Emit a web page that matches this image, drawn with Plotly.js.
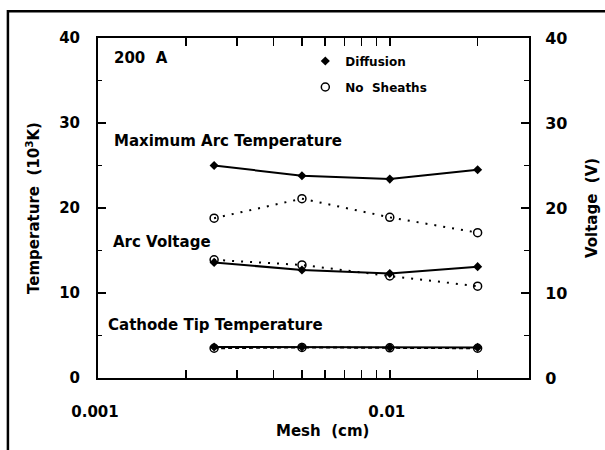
<!DOCTYPE html>
<html>
<head>
<meta charset="utf-8">
<script src="https://cdn.plot.ly/plotly-3.0.1.min.js"></script>
<style>
html,body{margin:0;padding:0;background:#fff;}
#chart{width:605px;height:450px;}
</style>
</head>
<body>
<div id="chart"></div>
<script>
const mesh = [0.0025, 0.005, 0.01, 0.02];
const maxTempDiffusion = [25.0, 23.8, 23.4, 24.5];
const maxTempNoSheaths = [18.8, 21.1, 18.9, 17.1];
const arcVoltDiffusion = [13.6, 12.7, 12.3, 13.1];
const arcVoltNoSheaths = [13.9, 13.3, 12.0, 10.8];
const cathodeDiffusion = [3.65, 3.65, 3.6, 3.6];
const cathodeNoSheaths = [3.5, 3.6, 3.55, 3.5];

const xTickVals = [0.001, 0.01];
const xTickText = ['0.001', '0.01'];
const xMinorVals = [0.002,0.003,0.004,0.005,0.006,0.007,0.008,0.009,0.02,0.03];
const yTickVals = [0, 10, 20, 30, 40];
const yTickText = ['0', '10', '20', '30', '40'];
const yMinorVals = [5, 15, 25, 35];

const F = 'DejaVu Sans, Verdana, sans-serif';
const solid = {color:'#000', width:2};
const dotted = {color:'#000', width:2, dash:'2px,7px'};
const filled = {symbol:'diamond', size:7, color:'#000'};
const open = {symbol:'circle-open', size:8, color:'#000', line:{width:1.5, color:'#000'}};

const traces = [
  {x:mesh, y:maxTempDiffusion, mode:'lines+markers', line:solid, marker:filled, showlegend:false},
  {x:mesh, y:maxTempNoSheaths, mode:'lines+markers', line:dotted, marker:open, showlegend:false},
  {x:mesh, y:arcVoltDiffusion, yaxis:'y2', mode:'lines+markers', line:solid, marker:filled, showlegend:false},
  {x:mesh, y:arcVoltNoSheaths, yaxis:'y2', mode:'lines+markers', line:dotted, marker:open, showlegend:false},
  {x:mesh, y:cathodeNoSheaths, mode:'lines+markers', line:{color:'#000', width:2, dash:'4px,3px'}, marker:open, showlegend:false},
  {x:mesh, y:cathodeDiffusion, mode:'lines+markers', line:solid, marker:filled, showlegend:false},
  {x:[null], y:[null], mode:'markers', marker:filled, name:'Diffusion', legendgroup:'a', showlegend:true},
  {x:[null], y:[null], mode:'markers', marker:open, name:'No  Sheaths', legendgroup:'b', showlegend:true}
];

const axisCommon = {
  showgrid:false, zeroline:false, showline:true, linecolor:'#000', linewidth:2,
  ticks:'inside', tickcolor:'#000', tickwidth:1.5, ticklen:8
};

const layout = {
  width:605, height:450,
  margin:{l:98, r:76, t:38, b:72},
  paper_bgcolor:'#fff', plot_bgcolor:'#fff',
  font:{family:F, color:'#000', weight:'bold'},
  showlegend:true,
  legend:{x:0.481, y:0.975, xanchor:'left', yanchor:'top', bgcolor:'rgba(0,0,0,0)',
          font:{family:F, size:12, weight:'bold'}, tracegroupgap:7, traceorder:'grouped',
          itemwidth:30},
  xaxis:Object.assign({}, axisCommon, {
    type:'log', range:[Math.log10(0.001), Math.log10(0.03)],
    tickvals:xTickVals, ticktext:xTickText, mirror:'allticks',
    tickfont:{family:F, size:15, weight:'bold'}, ticklabelstandoff:19, ticklabelshift:-3,
    minor:{tickvals:xMinorVals, ticks:'inside', ticklen:4, tickcolor:'#000', tickwidth:1.5}
  }),
  yaxis:Object.assign({}, axisCommon, {
    range:[0, 40], tickvals:yTickVals, ticktext:yTickText,
    tickfont:{family:F, size:15, weight:'bold'}, ticklabelstandoff:13,
    minor:{tickvals:yMinorVals, ticks:'inside', ticklen:4, tickcolor:'#000', tickwidth:1.5},
    title:{text:'Temperature  (10<sup>3</sup>K)', font:{family:F, size:15, weight:'bold'}, standoff:16}
  }),
  yaxis2:Object.assign({}, axisCommon, {
    range:[0, 40], overlaying:'y', side:'right', tickvals:yTickVals, ticktext:yTickText,
    tickfont:{family:F, size:16, weight:'bold'}, ticklabelstandoff:11,
    minor:{tickvals:yMinorVals, ticks:'inside', ticklen:5, tickcolor:'#000', tickwidth:1.5},
    title:{text:'Voltage  (V)', font:{family:F, size:15, weight:'bold'}, standoff:20}
  }),
  annotations:[
    {xref:'paper', yref:'paper', x:0.52, y:-0.155, xanchor:'center', yanchor:'middle', showarrow:false,
     text:'Mesh  (cm)', font:{family:F, size:15, weight:'bold'}},
    {xref:'paper', yref:'paper', x:0.033, y:0.941, xanchor:'left', yanchor:'middle', showarrow:false,
     text:'200  A', font:{family:F, size:15, weight:'bold'}},
    {xref:'paper', yref:'paper', x:0.032, y:0.697, xanchor:'left', yanchor:'middle', showarrow:false,
     text:'Maximum Arc Temperature', font:{family:F, size:15, weight:'bold'}},
    {xref:'paper', yref:'paper', x:0.030, y:0.400, xanchor:'left', yanchor:'middle', showarrow:false,
     text:'Arc Voltage', font:{family:F, size:15, weight:'bold'}},
    {xref:'paper', yref:'paper', x:0.019, y:0.156, xanchor:'left', yanchor:'middle', showarrow:false,
     text:'Cathode Tip Temperature', font:{family:F, size:15, weight:'bold'}}
  ],
  shapes:[
    {type:'rect', xref:'paper', yref:'paper', x0:-0.209, x1:1.25, y0:-0.3, y1:1.079,
     line:{color:'#000', width:2.5}, fillcolor:'rgba(0,0,0,0)', layer:'below'}
  ]
};

Plotly.newPlot('chart', traces, layout, {staticPlot:true, displayModeBar:false});
</script>
</body>
</html>
